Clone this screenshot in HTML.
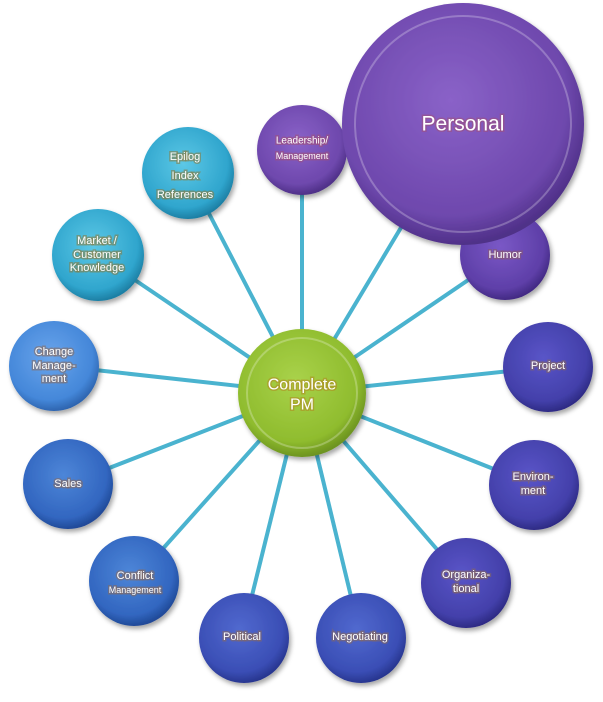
<!DOCTYPE html>
<html><head><style>
html,body{margin:0;padding:0;background:#fff;}
svg text{font-family:"Liberation Sans",sans-serif;fill:#fff;text-anchor:middle;dominant-baseline:central;paint-order:stroke;stroke-width:3px;stroke-opacity:.55;}
</style></head><body>
<svg width="603" height="697" viewBox="0 0 603 697" xmlns="http://www.w3.org/2000/svg">
<defs>
<radialGradient id="gGreen" cx="45%" cy="40%" r="60%"><stop offset="0" stop-color="#a9d24a"/><stop offset="0.8" stop-color="#8fbc2e"/><stop offset="1" stop-color="#6d9420"/></radialGradient>
<radialGradient id="gCyan" cx="45%" cy="40%" r="60%"><stop offset="0" stop-color="#5cc8e6"/><stop offset="0.8" stop-color="#2fa5cd"/><stop offset="1" stop-color="#1d7fa4"/></radialGradient>
<radialGradient id="gBlue1" cx="45%" cy="40%" r="60%"><stop offset="0" stop-color="#6aa5ec"/><stop offset="0.8" stop-color="#4487d9"/><stop offset="1" stop-color="#2e65b0"/></radialGradient>
<radialGradient id="gBlue2" cx="45%" cy="40%" r="60%"><stop offset="0" stop-color="#4d86d8"/><stop offset="0.8" stop-color="#3266c0"/><stop offset="1" stop-color="#204a98"/></radialGradient>
<radialGradient id="gBlue3" cx="45%" cy="40%" r="60%"><stop offset="0" stop-color="#5169cf"/><stop offset="0.8" stop-color="#3a4eb5"/><stop offset="1" stop-color="#283690"/></radialGradient>
<radialGradient id="gIndigo" cx="45%" cy="40%" r="60%"><stop offset="0" stop-color="#5a55c8"/><stop offset="0.8" stop-color="#4340aa"/><stop offset="1" stop-color="#2e2b85"/></radialGradient>
<radialGradient id="gViolet" cx="45%" cy="40%" r="60%"><stop offset="0" stop-color="#7a58c6"/><stop offset="0.8" stop-color="#5e3fa8"/><stop offset="1" stop-color="#432a84"/></radialGradient>
<radialGradient id="gPurple" cx="45%" cy="40%" r="60%"><stop offset="0" stop-color="#8a62c8"/><stop offset="0.8" stop-color="#6e48ad"/><stop offset="1" stop-color="#4f3088"/></radialGradient>
<filter id="sh" x="-20%" y="-20%" width="150%" height="150%"><feDropShadow dx="2" dy="3" stdDeviation="2.5" flood-opacity="0.35"/></filter>
</defs>
<g stroke="#4ab3cf" stroke-width="4">
<line x1="302" y1="393" x2="463" y2="124"/>
<line x1="302" y1="393" x2="302" y2="150"/>
<line x1="302" y1="393" x2="188" y2="173"/>
<line x1="302" y1="393" x2="98" y2="255"/>
<line x1="302" y1="393" x2="50" y2="365"/>
<line x1="302" y1="393" x2="68" y2="484"/>
<line x1="302" y1="393" x2="134" y2="581"/>
<line x1="302" y1="393" x2="242" y2="636"/>
<line x1="302" y1="393" x2="361" y2="638"/>
<line x1="302" y1="393" x2="466" y2="583"/>
<line x1="302" y1="393" x2="534" y2="485"/>
<line x1="302" y1="393" x2="548" y2="367"/>
<line x1="302" y1="393" x2="505" y2="255"/>
</g>
<g filter="url(#sh)">
<circle cx="505" cy="255" r="45" fill="url(#gViolet)"/>
<circle cx="302" cy="150" r="45" fill="url(#gPurple)"/>
<circle cx="463" cy="124" r="121" fill="url(#gPurple)"/>
<circle cx="188" cy="173" r="46" fill="url(#gCyan)"/>
<circle cx="98" cy="255" r="46" fill="url(#gCyan)"/>
<circle cx="54" cy="366" r="45" fill="url(#gBlue1)"/>
<circle cx="68" cy="484" r="45" fill="url(#gBlue2)"/>
<circle cx="134" cy="581" r="45" fill="url(#gBlue2)"/>
<circle cx="244" cy="638" r="45" fill="url(#gBlue3)"/>
<circle cx="361" cy="638" r="45" fill="url(#gBlue3)"/>
<circle cx="466" cy="583" r="45" fill="url(#gIndigo)"/>
<circle cx="534" cy="485" r="45" fill="url(#gIndigo)"/>
<circle cx="548" cy="367" r="45" fill="url(#gIndigo)"/>
<circle cx="302" cy="393" r="64" fill="url(#gGreen)"/>
</g>
<g fill="none" stroke="#fff" stroke-opacity="0.25" stroke-width="2">
<circle cx="463" cy="124" r="108"/>
<circle cx="302" cy="393" r="55"/>
</g>
<text x="463" y="124" font-size="21" stroke="#a0507a">Personal</text>
<text x="302" y="141" font-size="10" stroke="#a0507a">Leadership/</text>
<text x="302" y="156" font-size="9" stroke="#a0507a">Management</text>
<text x="505" y="255" font-size="11" stroke="#8a5a6a">Humor</text>
<g stroke="#8a7a3a" font-size="11">
<text x="185" y="157">Epilog</text>
<text x="185" y="176">Index</text>
<text x="185" y="195">References</text>
<text x="97" y="241">Market /</text>
<text x="97" y="255">Customer</text>
<text x="97" y="268">Knowledge</text>
</g>
<g stroke="#8a6a5a" font-size="11">
<text x="54" y="352">Change</text>
<text x="54" y="366">Manage-</text>
<text x="54" y="379">ment</text>
<text x="68" y="484">Sales</text>
<text x="135" y="576">Conflict</text>
<text x="135" y="590" font-size="9">Management</text>
<text x="242" y="637">Political</text>
<text x="360" y="637">Negotiating</text>
<text x="466" y="575">Organiza-</text>
<text x="466" y="589">tional</text>
<text x="533" y="477">Environ-</text>
<text x="533" y="491">ment</text>
<text x="548" y="366">Project</text>
</g>
<text x="302" y="385" font-size="16" stroke="#b08a20">Complete</text>
<text x="302" y="405" font-size="16" stroke="#b08a20">PM</text>
</svg>
</body></html>
